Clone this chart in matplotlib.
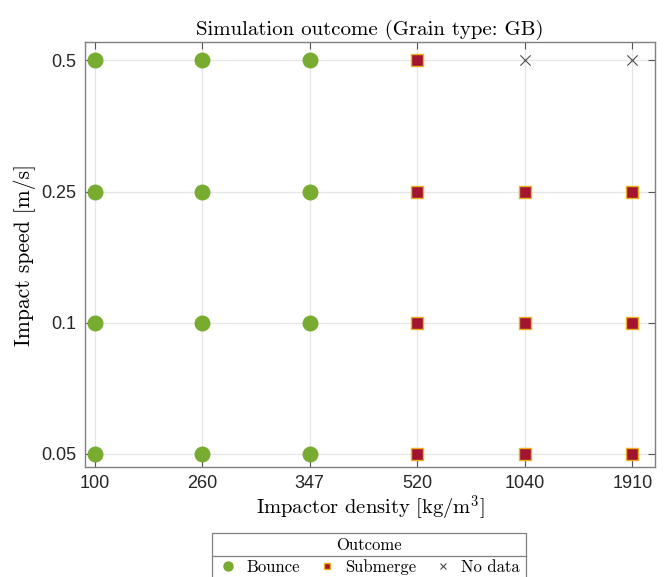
import matplotlib
matplotlib.use("Agg")
import matplotlib.pyplot as plt
from matplotlib.lines import Line2D
from matplotlib.patches import Rectangle

densities = ["100", "260", "347", "520", "1040", "1910"]
speeds = ["0.05", "0.1", "0.25", "0.5"]
# outcome grid: rows = speeds (0.05..0.5), cols = densities
# B = bounce, S = submerge, N = no data
outcome = [
    ["B", "B", "B", "S", "S", "S"],
    ["B", "B", "B", "S", "S", "S"],
    ["B", "B", "B", "S", "S", "S"],
    ["B", "B", "B", "S", "N", "N"],
]
legend_labels = ["Bounce", "Submerge", "No data"]

plt.rcParams['mathtext.fontset'] = 'cm'
serif = 'cmr10'

W, H = 670, 577
fig = plt.figure(figsize=(W/100, H/100), dpi=100)
ax = fig.add_axes([85/W, 1-467/H, (655-85)/W, (467-42)/H])

green = (0.466, 0.674, 0.188)
red = (0.635, 0.078, 0.184)
orange = (0.929, 0.694, 0.125)
gray = (0.3, 0.3, 0.3)

for i, sp in enumerate(speeds):
    for j, d in enumerate(densities):
        o = outcome[i][j]
        if o == "B":
            ax.scatter(j, i, s=110, marker='o', color=green, edgecolors=green, zorder=3)
        elif o == "S":
            ax.scatter(j, i, s=75, marker='s', color=red, edgecolors=orange, linewidths=1.0, zorder=3)
        else:
            ax.scatter(j, i, s=55, marker='x', color=gray, linewidths=0.8, zorder=3)

ax.set_xlim(-0.09, 5.21)
ax.set_ylim(-0.1, 3.14)
ax.set_xticks(range(len(densities)))
ax.set_xticklabels(densities)
ax.set_yticks(range(len(speeds)))
ax.set_yticklabels(speeds)
for lab in ax.get_xticklabels() + ax.get_yticklabels():
    lab.set_fontfamily('Liberation Sans')
    lab.set_fontsize(13)
    lab.set_color('#262626')
ax.tick_params(direction='in', top=True, right=True, length=5, width=0.8, color='#555555', pad=6)
ax.grid(True, color='#e6e6e6', linewidth=0.9, zorder=0)
ax.set_axisbelow(True)
for s in ax.spines.values():
    s.set_color('#808080')
    s.set_linewidth(1.0)

ax.set_title("Simulation outcome (Grain type: GB)", fontfamily=serif, fontsize=15, pad=5)
ax.set_xlabel(r"Impactor density [kg/m$^3$]", fontfamily=serif, fontsize=14.8, labelpad=1)
ax.set_ylabel("Impact speed [m/s]", fontfamily=serif, fontsize=15.5, labelpad=4)

handles = [
    Line2D([], [], marker='o', linestyle='none', color=green, markersize=6.5),
    Line2D([], [], marker='s', linestyle='none', markerfacecolor=red, markeredgecolor=orange, markersize=5),
    Line2D([], [], marker='x', linestyle='none', color=gray, markersize=4.5, markeredgewidth=0.8),
]
leg = fig.legend(handles, legend_labels, ncol=3,
                 loc='center', bbox_to_anchor=(369/W, 1-567/H), bbox_transform=fig.transFigure,
                 prop={'family': serif, 'size': 12},
                 frameon=False, borderpad=0.0, handletextpad=0.5, columnspacing=1.0, handlelength=1.2)
# legend frame, title and separator
fig.add_artist(Rectangle((212/W, 1-590/H), (526-212)/W, (590-533)/H, transform=fig.transFigure,
                         facecolor='white', edgecolor='#808080', linewidth=0.9, zorder=0))
fig.add_artist(Line2D([212/W, 526/W], [1-556/H, 1-556/H], transform=fig.transFigure,
                      color='#808080', linewidth=0.9))
fig.text(369/W, 1-545/H, "Outcome", ha='center', va='center', fontfamily=serif, fontsize=12)

fig.savefig("out.png", dpi=100)
